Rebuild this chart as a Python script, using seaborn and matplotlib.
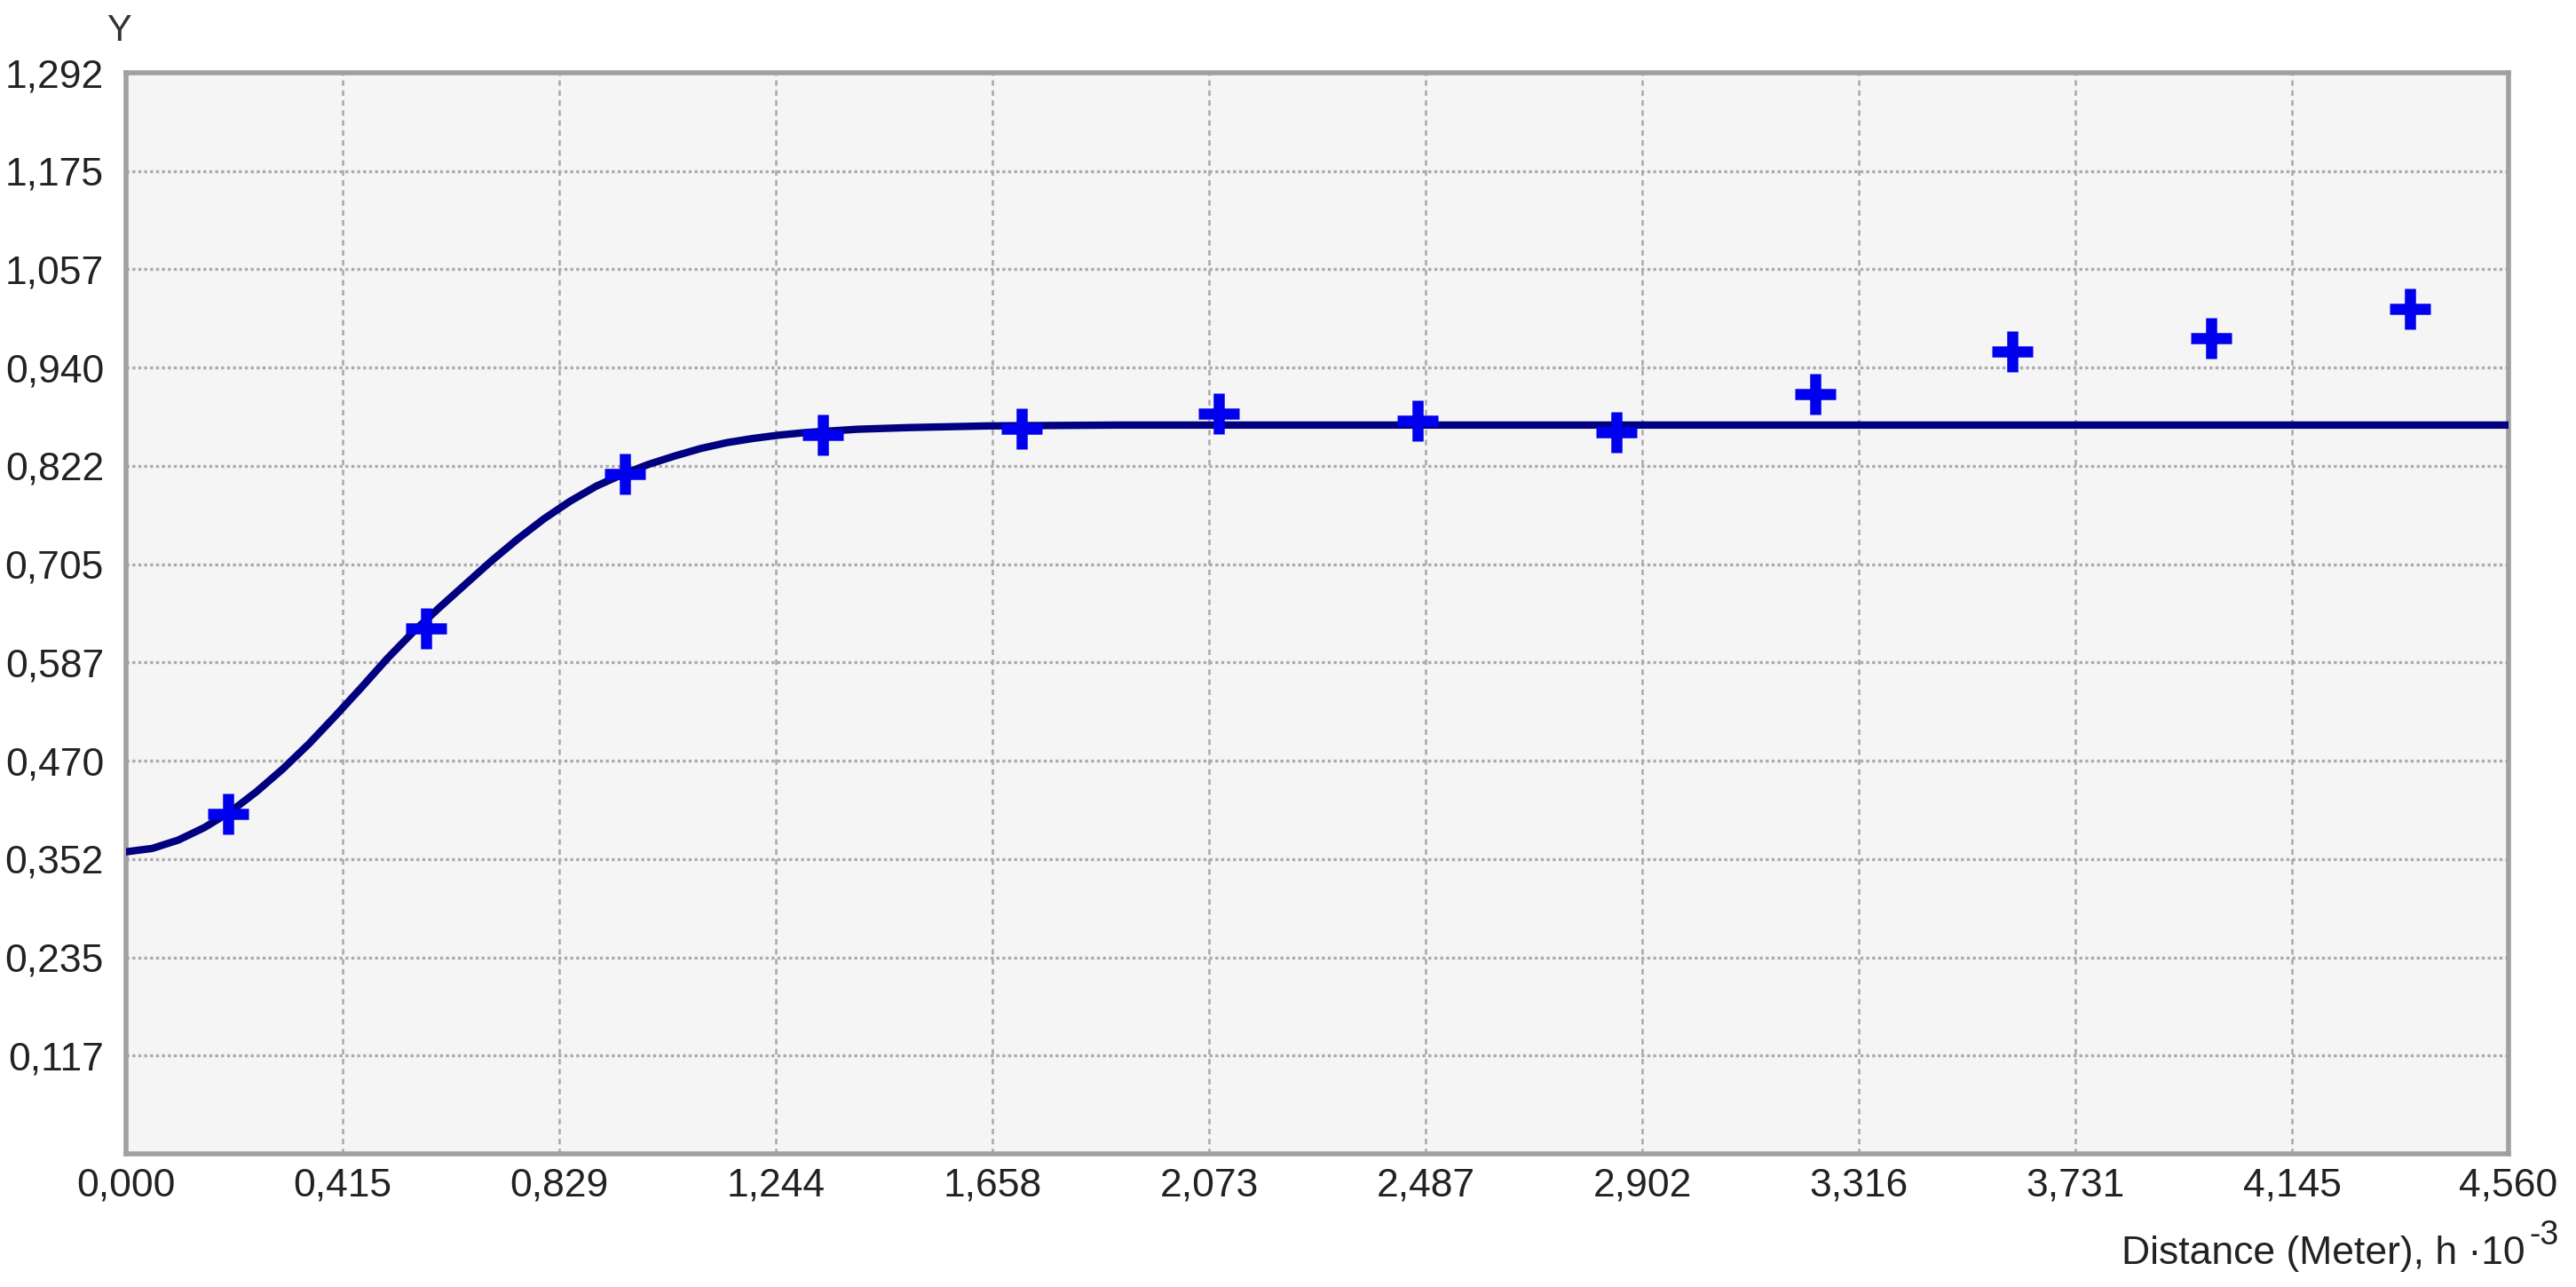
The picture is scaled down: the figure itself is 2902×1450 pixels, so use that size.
import numpy as np
import pandas as pd
import matplotlib
matplotlib.use('Agg')
import matplotlib.pyplot as plt
import seaborn as sns
import warnings
warnings.filterwarnings('ignore')

# experimental variogram points (lag h*10^-3, gamma)
lag = [0.195, 0.574, 0.955, 1.334, 1.714, 2.091, 2.472, 2.852, 3.233, 3.610, 3.991, 4.371]
gamma = [0.406, 0.628, 0.813, 0.859, 0.867, 0.885, 0.876, 0.862, 0.908, 0.959, 0.975, 1.010]

# fitted model curve
model_h = [0.000, 0.050, 0.100, 0.150, 0.200, 0.250, 0.300, 0.350, 0.400, 0.450, 0.500,
           0.550, 0.600, 0.650, 0.700, 0.750, 0.800, 0.850, 0.900, 0.950, 1.000, 1.050,
           1.100, 1.150, 1.200, 1.250, 1.300, 1.400, 1.500, 1.650, 1.900, 4.560]
model_g = [0.361, 0.365, 0.375, 0.390, 0.409, 0.433, 0.460, 0.490, 0.523, 0.557, 0.592,
           0.624, 0.653, 0.681, 0.709, 0.735, 0.759, 0.780, 0.798, 0.812, 0.824, 0.834,
           0.843, 0.850, 0.855, 0.859, 0.862, 0.866, 0.868, 0.870, 0.871, 0.871]

x_ticks = ['0,000', '0,415', '0,829', '1,244', '1,658', '2,073', '2,487', '2,902',
           '3,316', '3,731', '4,145', '4,560']
y_ticks = ['0,117', '0,235', '0,352', '0,470', '0,587', '0,705', '0,822', '0,940',
           '1,057', '1,175', '1,292']
x_max = 4.560
y_max = 1.292

pts = pd.DataFrame({'h': lag, 'gamma': gamma})
model = pd.DataFrame({'h': model_h, 'gamma': model_g})

sns.set_style('white')
plt.rcParams['font.family'] = ['Liberation Sans Narrow', 'Liberation Sans', 'DejaVu Sans']

fig = plt.figure(figsize=(29.02, 14.50), dpi=100)
ax = fig.add_axes([142 / 2902, 150 / 1450, 2684 / 2902, 1218 / 1450])
ax.set_facecolor('#f5f5f5')

sns.lineplot(data=model, x='h', y='gamma', ax=ax, color='#000080', linewidth=6, zorder=3)
sns.scatterplot(data=pts, x='h', y='gamma', ax=ax, marker='+', s=33 ** 2,
                color='#0000ee', linewidth=9, zorder=4)

ax.set_xlim(0, x_max)
ax.set_ylim(0, y_max)
ax.set_xticks(np.linspace(0, x_max, len(x_ticks)))
ax.set_xticklabels(x_ticks)
ax.set_yticks(np.linspace(0, y_max, len(y_ticks) + 1)[1:])
ax.set_yticklabels(y_ticks)
ax.tick_params(axis='both', length=0, labelsize=32, labelcolor='#222222')
ax.tick_params(axis='x', pad=11)
ax.tick_params(axis='y', pad=18)
ax.set_xlabel('')
ax.set_ylabel('')

ax.yaxis.grid(True, color='#aaaaaa', linewidth=2.4, linestyle=(0, (1, 1)))
ax.xaxis.grid(True, color='#a8a8a8', linewidth=1.8, linestyle=(0, (2.5, 2)))
ax.set_axisbelow(True)
for s in ax.spines.values():
    s.set_color('#a0a0a0')
    s.set_linewidth(4)

fig.text(134 / 2902, 1 - 35 / 1450, 'Y', fontsize=30, color='#333333', ha='center', va='center')
fig.text(2845 / 2902, 1 - 1424 / 1450, 'Distance (Meter), h ·10',
         fontsize=32, color='#222222', ha='right', va='baseline')
fig.text(2849 / 2902, 1 - 1402 / 1450, '-3',
         fontsize=27, color='#222222', ha='left', va='baseline')

plt.savefig('out.png', dpi=100)
plt.close()
